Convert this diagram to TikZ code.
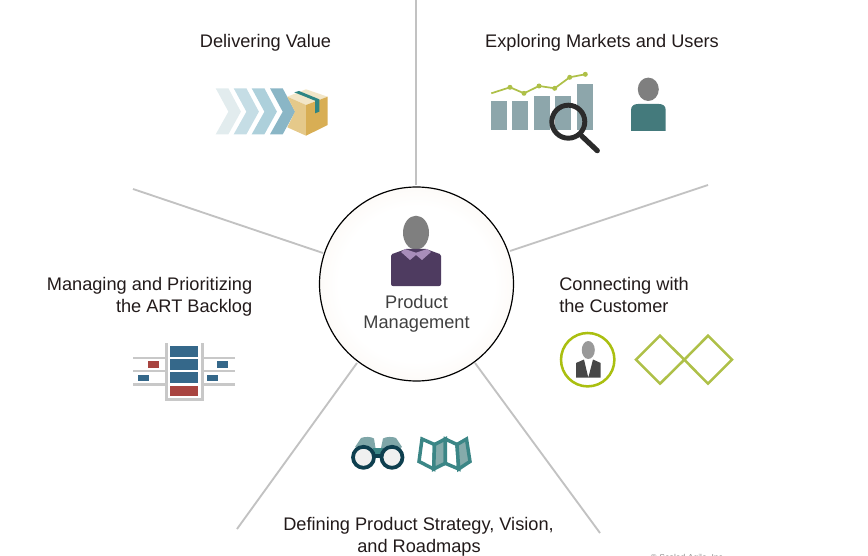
\documentclass[tikz,border=0pt]{standalone}
\usepackage{fontspec}
\setmainfont{Liberation Sans}
\definecolor{spoke}{HTML}{C2C2C2}
\definecolor{txt}{HTML}{221A1A}
\definecolor{grayhead}{HTML}{7F7F7F}
\definecolor{limeline}{HTML}{AEC048}
\definecolor{tealbody}{HTML}{447A7C}
\definecolor{barcol}{HTML}{8DA6AB}
\definecolor{mapteal}{HTML}{3B8686}
\definecolor{ganttblue}{HTML}{35688A}
\definecolor{ganttred}{HTML}{A84440}
\definecolor{ganttgray}{HTML}{C8C8C8}
\pgfdeclareradialshading{hubshade}{\pgfpoint{0bp}{0bp}}{rgb(0bp)=(1,1,1);rgb(20bp)=(1,1,1);rgb(36bp)=(0.975,0.945,0.915);rgb(100bp)=(0.975,0.945,0.915)}
\tikzset{
  spokeline/.style={draw=spoke,line width=1.4pt},
  label/.style={text=txt,font=\fontsize{13.65pt}{18pt}\selectfont,inner sep=0pt},
  bar/.style={fill=barcol,draw=none},
  ganttbar/.style={fill=ganttgray,draw=none},
  gblue/.style={fill=ganttblue,draw=none},
  gred/.style={fill=ganttred,draw=none},
  dot/.style={fill=limeline,draw=none},
  mappanel/.style={draw=mapteal,line width=2.6pt,line join=miter},
}
\begin{document}
\begin{tikzpicture}[x=0.75pt,y=-0.75pt]
\useasboundingbox (0,0) rectangle (868,556);
% hub and spokes
\node[circle,minimum size=145.5pt,inner sep=0pt,draw=black,line width=0.9pt,shading=hubshade] (hub) at (416.5,284) {};
\coordinate (s1) at (416,-2);
\coordinate (s2) at (708,185);
\coordinate (s3) at (133,189);
\coordinate (s4) at (237,529);
\coordinate (s5) at (600,533);
\coordinate (e1) at (416,185);
\coordinate (e2) at (510,251);
\coordinate (e3) at (323,253);
\coordinate (e4) at (357,363);
\coordinate (e5) at (475,363);
\draw[spokeline] (s1) -- (e1);
\draw[spokeline] (s2) -- (e2);
\draw[spokeline] (s3) -- (e3);
\draw[spokeline] (s4) -- (e4);
\draw[spokeline] (s5) -- (e5);
% labels
\node[label,anchor=base] (t1) at (265.5,47.7) {Delivering Value};
\node[label,anchor=base] (t2) at (602,47.7) {Exploring Markets and Users};
\node[label,anchor=base west] (t3a) at (559,290.7) {Connecting with};
\node[label,anchor=base west] (t3b) at (559,312) {the Customer};
\node[label,anchor=base east] (t4a) at (252.5,290.7) {Managing and Prioritizing};
\node[label,anchor=base east] (t4b) at (252.5,312) {the ART Backlog};
\node[label,anchor=base] (t5a) at (418.5,530) {Defining Product Strategy, Vision,};
\node[label,anchor=base] (t5b) at (419,552) {and Roadmaps};
\node[label,anchor=base,text=black!75] (h1) at (416.5,308) {Product};
\node[label,anchor=base,text=black!75] (h2) at (416.5,328) {Management};
\node[anchor=base,inner sep=0pt,text=black!45,font=\fontsize{6.4pt}{8pt}\selectfont] (copy) at (688,560.5) {© Scaled Agile, Inc.};
% hub person
\fill[grayhead] (416,232.7) ellipse [x radius=13,y radius=17];
\fill[fill={rgb,255:red,78;green,59;blue,96}] (391,256) .. controls (391,254) and (393,253.5) .. (395,253) -- (406,249) -- (426,249) -- (437,253) .. controls (439,253.5) and (441,254) .. (441,256) -- (441,284) .. controls (441,285.5) and (440,286) .. (439,286) -- (393,286) .. controls (392,286) and (391,285.5) .. (391,284) -- cycle;
\fill[fill={rgb,255:red,168;green,141;blue,186}] (405,249) -- (416,252.7) -- (427,249) -- (431,252) -- (422,260) -- (416,255) -- (410,260) -- (401,252) -- cycle;
% chevrons
\foreach \x/\c in {215.7/E2ECEE,233.7/C5DDE5,251.7/ADD0DB,270/8AB6C6}{
  \definecolor{chev}{HTML}{\c}
  \fill[chev] (\x,88.3) -- ++(12.7,0) -- ++(12.5,23.4) -- ++(-12.5,22.6) -- ++(-12.7,0) -- ++(12.7,-22.6) -- cycle;
}
% box
\fill[fill={rgb,255:red,242;green,230;blue,200}] (287.3,96.7) -- (306,89.3) -- (327.7,96.7) -- (306,105) -- cycle;
\fill[fill={rgb,255:red,229;green,201;blue,138}] (287.3,96.7) -- (306,105) -- (306,135.7) -- (287.3,127.3) -- (295,111.7) -- cycle;
\fill[fill={rgb,255:red,216;green,174;blue,84}] (306,105) -- (327.7,96.7) -- (327.7,125) -- (306,135.7) -- cycle;
\fill[fill={rgb,255:red,46;green,133;blue,131}] (294.3,92.3) -- (299,91) -- (319.3,99.3) -- (319.3,111.7) -- (315,113.3) -- (315,100.7) -- cycle;
% bar chart
\fill[bar] (491.3,100.7) rectangle (507.3,130);
\fill[bar] (512.3,100.7) rectangle (528.3,130);
\fill[bar] (534,95.7) rectangle (549.7,130);
\fill[bar] (555.3,95.7) rectangle (571.3,130);
\fill[bar] (577,84) rectangle (592.7,130);
\draw[limeline,line width=1.3pt] (491.3,93.3) -- (510,87.3) -- (524,93.3) -- (539,86) -- (554.7,88.3) -- (569.7,77.3) -- (585.3,74.3);
\foreach \p in {(510,87.3),(524,93.3),(539,86),(554.7,88.3),(569.7,77.3),(585.3,74.3)}{
  \fill[dot] \p circle [radius=2.5];
}
\draw[black!83,line width=3.7pt] (568.3,121.7) circle [radius=16.5];
\draw[black!83,line width=3.9pt,line cap=round] (581.7,136) -- (597.3,150.7);
% person top right
\fill[grayhead] (648.3,89.3) ellipse [x radius=10.5,y radius=11.7];
\fill[tealbody] (631,131) -- (631,110) .. controls (631,106) and (634,104) .. (638,104) -- (659,104) .. controls (663,104) and (665.7,106) .. (665.7,110) -- (665.7,131) -- cycle;
% customer circle
\draw[fill=white,draw={rgb,255:red,170;green,191;blue,16},line width=1.9pt] (587.7,359.7) circle [radius=26.7];
\fill[black!40] (588.3,350) ellipse [x radius=6.5,y radius=9];
\fill[black!72] (576,377.7) -- (576,363) -- (584,359.5) -- (588.3,377.7) -- (593,359.5) -- (600.7,363) -- (600.7,377.7) -- cycle;
% diamonds
\draw[limeline,line width=1.9pt] (636,359.7) -- (660,335.7) -- (684.3,359.7) -- (660,383.7) -- cycle;
\draw[limeline,line width=1.9pt] (684.3,359.7) -- (708,335.7) -- (732,359.7) -- (708,383.7) -- cycle;
% backlog
\fill[ganttbar] (164.7,343.3) rectangle (168.3,401);
\fill[ganttbar] (200.7,343.3) rectangle (204,401);
\fill[ganttbar] (164.7,397.7) rectangle (204,401);
\foreach \y in {356.7,369.7,383}{
  \fill[ganttbar] (133,\y) rectangle (164.7,\y+2.6);
  \fill[ganttbar] (204,\y) rectangle (235,\y+2.6);
}
\fill[gblue] (170,346.3) rectangle (198.3,356.7);
\fill[gblue] (170,359.3) rectangle (198.3,369.7);
\fill[gblue] (170,372.3) rectangle (198.3,382.7);
\fill[gred] (170,385.7) rectangle (198.3,396);
\fill[gred] (147.7,361.3) rectangle (159.3,367.7);
\fill[gblue] (137.7,374.7) rectangle (149.3,380.7);
\fill[gblue] (217,361.3) rectangle (228.3,367.7);
\fill[gblue] (207,374.7) rectangle (218.3,380.7);
% binoculars
\fill[fill={rgb,255:red,127;green,166;blue,168}] (355,447) -- (361,438) .. controls (365,436.5) and (371,436.5) .. (374,438.5) -- (375.5,448) -- (381,448) -- (383,438.5) .. controls (386,436.5) and (393,436.5) .. (396,438) -- (402,447) -- (395,452) -- (362,452) -- cycle;
\fill[mapteal] (373,448) rectangle (383,454);
\fill[fill={rgb,255:red,14;green,63;blue,79}] (373,454) rectangle (383,458);
\draw[fill=black!6,draw={rgb,255:red,14;green,63;blue,79},line width=2.8pt] (363.5,457.3) circle [radius=10.5];
\draw[fill=black!6,draw={rgb,255:red,14;green,63;blue,79},line width=2.8pt] (392,457.3) circle [radius=10.5];
% map
\path[mappanel,fill=white] (422,439) -- (434.5,444.5) -- (433.7,469) -- (419,461.5) -- cycle;
\path[mappanel,fill={rgb,255:red,133;green,171;blue,171}] (434.5,444.5) -- (445.3,439) -- (445.3,463.3) -- (433.7,469) -- cycle;
\path[mappanel,fill=white] (445.3,439) -- (457,444.5) -- (458.7,469) -- (445.3,463.3) -- cycle;
\path[mappanel,fill={rgb,255:red,133;green,171;blue,171}] (457,444.5) -- (466.5,439) -- (470,461.5) -- (458.7,469) -- cycle;
\end{tikzpicture}
\end{document}
